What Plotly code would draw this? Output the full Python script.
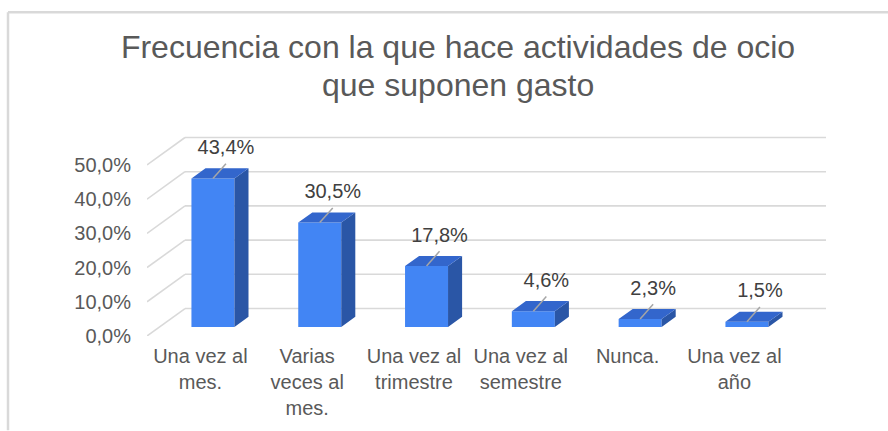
import plotly.graph_objects as go

# ---- data ----
categories = ["Una vez al<br>mes.", "Varias<br>veces al<br>mes.", "Una vez al<br>trimestre",
              "Una vez al<br>semestre", "Nunca.", "Una vez al<br>año"]
values = [43.4, 30.5, 17.8, 4.6, 2.3, 1.5]
tick_values = [0, 10, 20, 30, 40, 50]
tick_labels = ["0,0%", "10,0%", "20,0%", "30,0%", "40,0%", "50,0%"]
title_line1 = "Frecuencia con la que hace actividades de ocio"
title_line2 = "que suponen gasto"

# ---- geometry / style (pixels -> axis units) ----
W, H = 888, 431
L_PX, R_PX, T_PX, B_PX = 147, 826, 127, 340
PX_PER_CAT = 106.8
PX_PER_PCT = 3.486
FLOOR_DX_PX, FLOOR_DY_PX = 38, 28

dx_floor = FLOOR_DX_PX / PX_PER_CAT
dy_floor = FLOOR_DY_PX / PX_PER_PCT
f0, f1 = 0.33, 0.70          # bar depth fractions
bar_w = 43 / PX_PER_CAT

x_range = [-0.5, -0.5 + (R_PX - L_PX) / PX_PER_CAT]
y_range = [0, (B_PX - T_PX) / PX_PER_PCT]

FRONT = "#4285F4"
TOP = "#3366CC"
SIDE = "#2A56A6"
GRID = "#D9D9D9"
TXT = "#595959"
FONT = "Arial, Liberation Sans, sans-serif"

n = len(values)
idx = list(range(n))
xf = [i + f0 * dx_floor for i in idx]           # front-face centres
base = f0 * dy_floor
ddx = (f1 - f0) * dx_floor
ddy = (f1 - f0) * dy_floor

fig = go.Figure()

# front faces
fig.add_trace(go.Bar(x=xf, y=values, base=[base] * n, width=bar_w,
                     marker=dict(color=FRONT, line=dict(width=0)),
                     hoverinfo="skip"))

# side & top faces
sx, sy, tx, ty = [], [], [], []
for xc, v in zip(xf, values):
    xl, xr = xc - bar_w / 2, xc + bar_w / 2
    top = base + v
    sx += [xr, xr + ddx, xr + ddx, xr, xr, None]
    sy += [base, base + ddy, top + ddy, top, base, None]
    tx += [xl, xl + ddx, xr + ddx, xr, xl, None]
    ty += [top, top + ddy, top + ddy, top, top, None]
fig.add_trace(go.Scatter(x=sx, y=sy, mode="lines", fill="toself", fillcolor=SIDE,
                         line=dict(width=0, color=SIDE), hoverinfo="skip"))
fig.add_trace(go.Scatter(x=tx, y=ty, mode="lines", fill="toself", fillcolor=TOP,
                         line=dict(width=0, color=TOP), hoverinfo="skip"))

# leader lines and labels
lx, ly = [], []
for xc, v in zip(xf, values):
    top = base + v
    lx += [xc, xc + 13 / PX_PER_CAT, None]
    ly += [top, top + 15 / PX_PER_PCT, None]
fig.add_trace(go.Scatter(x=lx, y=ly, mode="lines", line=dict(color="#A6A6A6", width=1.5),
                         hoverinfo="skip"))
fig.add_trace(go.Scatter(x=[xc + 13 / PX_PER_CAT for xc in xf],
                         y=[base + v + 30 / PX_PER_PCT for v in values],
                         mode="text",
                         text=[f"{v:.1f}".replace(".", ",") + "%" for v in values],
                         textfont=dict(family=FONT, size=20, color="#404040"),
                         cliponaxis=False, hoverinfo="skip"))

# back-wall gridlines and side-wall slanted lines
shapes = []
for v in tick_values:
    shapes.append(dict(type="line", xref="x", yref="y", layer="below",
                       x0=-0.5 + dx_floor, x1=x_range[1], y0=v + dy_floor, y1=v + dy_floor,
                       line=dict(color=GRID, width=1.6)))
    shapes.append(dict(type="line", xref="x", yref="y", layer="below",
                       x0=-0.5, x1=-0.5 + dx_floor, y0=v, y1=v + dy_floor,
                       line=dict(color=GRID, width=1.6)))

# outer frame (top and left edge)
pw, ph = R_PX - L_PX, B_PX - T_PX
def px_x(p): return (p - L_PX) / pw
def px_y(p): return (B_PX - p) / ph
shapes.append(dict(type="line", xref="paper", yref="paper", x0=px_x(8), x1=px_x(W + 5),
                   y0=px_y(10), y1=px_y(10), line=dict(color=GRID, width=2.5)))
shapes.append(dict(type="line", xref="paper", yref="paper", x0=px_x(8), x1=px_x(8),
                   y0=px_y(10), y1=px_y(H + 5), line=dict(color=GRID, width=2.5)))

fig.update_layout(
    width=W, height=H,
    margin=dict(l=L_PX, r=W - R_PX, t=T_PX, b=H - B_PX),
    paper_bgcolor="white", plot_bgcolor="rgba(0,0,0,0)",
    showlegend=False,
    shapes=shapes,
    title=dict(text=title_line1,
               font=dict(family=FONT, size=32, color=TXT),
               x=458 / W, xref="container", xanchor="center",
               y=1 - 47 / H, yref="container", yanchor="middle"),
    annotations=[dict(text=title_line2, showarrow=False,
                      font=dict(family=FONT, size=32, color=TXT),
                      xref="paper", yref="paper", x=px_x(458), y=px_y(84),
                      xanchor="center", yanchor="middle")],
    xaxis=dict(range=x_range, tickmode="array", tickvals=idx, ticktext=categories,
               showgrid=False, zeroline=False, showline=False, ticks="",
               tickfont=dict(family=FONT, size=20, color=TXT),
               ticklabelstandoff=6, fixedrange=True),
    yaxis=dict(range=y_range, tickmode="array", tickvals=tick_values, ticktext=tick_labels,
               showgrid=False, zeroline=False, showline=False, ticks="",
               tickfont=dict(family=FONT, size=20, color=TXT),
               ticklabelstandoff=15, fixedrange=True),
)

fig.write_html("out.html", config={"displayModeBar": False},
               post_script="document.body.style.margin='0';document.body.style.padding='0';")
